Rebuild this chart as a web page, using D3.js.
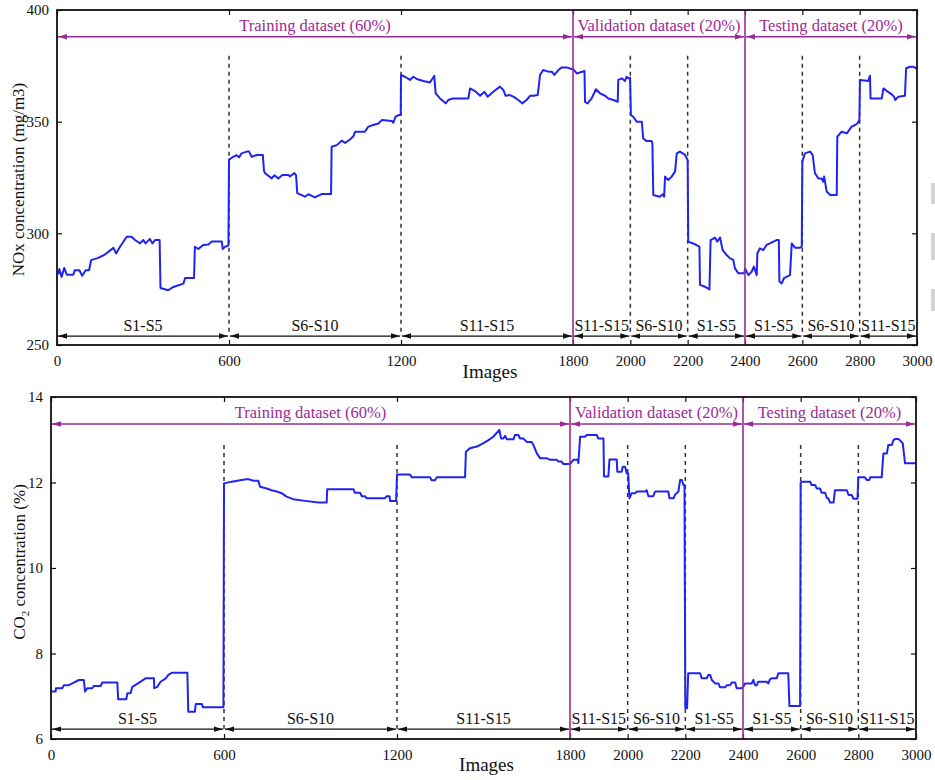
<!DOCTYPE html>
<html>
<head>
<meta charset="utf-8">
<script src="https://cdn.jsdelivr.net/npm/d3@7"></script>
<style>
  body { margin: 0; background: #fff; }
  svg { display: block; }
  text { font-family: "Liberation Serif", "Times New Roman", serif; }
</style>
</head>
<body>
<svg id="chart" width="935" height="780"></svg>
<script>
// ---- data -------------------------------------------------------------
const imageTicks = [0, 600, 1200, 1800, 2000, 2200, 2400, 2600, 2800, 3000];
const noxTicks = [250, 300, 350, 400];
const co2Ticks = [6, 8, 10, 12, 14];

const splitBounds = [0, 1800, 2400, 3000];
const splitLabels = ["Training dataset (60%)", "Validation dataset (20%)", "Testing dataset (20%)"];

const stageBounds = [0, 600, 1200, 1800, 2000, 2200, 2400, 2600, 2800, 3000];
const stageLabels = ["S1-S5", "S6-S10", "S11-S15", "S11-S15", "S6-S10", "S1-S5", "S1-S5", "S6-S10", "S11-S15"];
const stageDividers = [600, 1200, 2000, 2200, 2600, 2800];

// NOx concentration (mg/m3) per image index
const noxSeries = [
  [0,282],[5,282],[8,284],[16,280.5],[25,284.5],[34,281.5],[57,281.5],[62,283.5],[78,283.5],[88,281],
  [100,283.5],[112,283.5],[119,288],[144,289],[167,290.5],[197,293.5],[206,291],[220,294],[243,298.5],
  [260,298.5],[272,297],[290,295.5],[301,297],[309,295.5],[324,297.5],[333,295.5],[342,297],[358,297],
  [361,275.5],[388,274.5],[406,276],[441,277.5],[447,280],[478,280],[481,294],[493,293],[510,294.8],
  [528,295],[540,296.3],[575,296.3],[578,293],[586,294],[598,294.5],
  [600,333],[615,334.3],[627,335],[635,334],[644,335.8],[662,336.6],[670,336.6],[679,334.3],[697,335.1],
  [718,335.1],[722,328],[726,326.9],[749,324.6],[758,326],[772,324.6],[786,326.1],[807,326.1],[813,325.5],
  [828,327],[834,326],[838,318],[865,316.4],[877,317.5],[900,316.1],[923,317.6],[956,317.6],[958,338.8],
  [976,339.5],[993,341.5],[1005,340.5],[1022,342],[1034,343.5],[1040,345.5],[1074,345.5],[1086,347.8],
  [1103,348.5],[1121,349.2],[1133,350.7],[1168,350.3],[1173,349.5],[1181,352.2],[1193,353],[1199,353],
  [1200,370.9],[1214,370.1],[1231,368.7],[1243,370.1],[1255,369.1],[1278,368.2],[1301,367.5],[1314,370.1],
  [1316,370.5],[1321,362.7],[1336,360.4],[1356,358.2],[1365,359.7],[1380,360.4],[1435,360.4],[1441,364.9],
  [1458,363.7],[1476,361.6],[1491,363.4],[1502,361.2],[1522,363.4],[1545,365.7],[1557,364.2],[1565,361.6],
  [1580,361.9],[1592,361.2],[1609,359.7],[1623,358.2],[1638,359.7],[1650,361.6],[1662,361.6],[1677,361.9],
  [1685,370.9],[1696,373.1],[1714,372.4],[1726,372.4],[1735,370.9],[1749,373.1],[1761,374.3],[1778,374.3],
  [1795,373.6],[1800,373.6],
  [1813,371.6],[1840,372.7],[1842,358.9],[1851,358.2],[1865,360.4],[1880,364.5],[1894,362.7],[1912,361.6],
  [1923,360.4],[1941,359.7],[1956,358.9],[1958,368.7],[1970,369.4],[1981,368.2],[1987,370.1],[1993,369.4],
  [1999,369.7],
  [2002,353],[2010,352.2],[2022,350],[2040,350],[2045,342.5],[2057,341.3],[2074,341.3],[2077,340.3],
  [2080,317.2],[2103,316.4],[2113,317.5],[2118,316.4],[2121,325.4],[2132,323.9],[2144,325.4],[2156,327.6],
  [2162,335.8],[2173,336.6],[2191,335.1],[2200,332.8],
  [2202,296.3],[2226,295.1],[2241,294],[2243,276.9],[2260,276.1],[2276,274.9],[2280,297],[2295,298.1],
  [2303,296.3],[2313,298.1],[2322,292.5],[2336,290.3],[2348,288.8],[2359,288.1],[2365,284.3],[2377,282.1],
  [2398,282.1],
  [2400,284.3],[2412,281.3],[2423,282.8],[2431,285.1],[2441,281.3],[2443,291],[2452,293.3],[2464,292.5],
  [2475,294.8],[2487,295.5],[2510,297],[2518,297],[2520,278.4],[2528,277.6],[2536,279.9],[2557,281.3],
  [2563,295.5],[2574,293.6],[2592,293.6],[2598,294],
  [2600,332.1],[2609,335.8],[2627,336.6],[2636,335.1],[2644,326.9],[2656,324.6],[2667,324.6],[2673,323.1],
  [2676,325.4],[2685,318.7],[2697,317.2],[2720,317.2],[2722,343.3],[2737,345.5],[2755,344.8],[2764,346.3],
  [2772,347.8],[2784,348.5],[2792,349.2],[2799,350.7],
  [2801,368.7],[2830,368.2],[2836,370.6],[2838,360.4],[2877,360.4],[2883,364.9],[2895,363.7],[2912,362.2],
  [2920,361.2],[2924,359.7],[2935,361.2],[2958,361.6],[2962,373.9],[2976,374.6],[2987,374.6],[3000,373.6]
];

// CO2 concentration (%) per image index
const co2Series = [
  [0,7.11],[16,7.11],[17,7.19],[39,7.19],[45,7.26],[62,7.26],[74,7.3],[97,7.38],[114,7.38],[118,7.11],
  [126,7.19],[143,7.19],[149,7.24],[172,7.24],[178,7.32],[230,7.32],[233,6.93],[261,6.93],[265,7.07],
  [276,7.07],[282,7.22],[299,7.29],[328,7.42],[357,7.42],[358,7.19],[369,7.22],[380,7.34],[398,7.42],
  [407,7.5],[419,7.55],[473,7.55],[476,6.64],[499,6.64],[502,6.82],[523,6.82],[527,6.74],[598,6.74],
  [600,11.98],[627,12.02],[661,12.06],[684,12.08],[702,12.04],[719,12.04],[725,11.9],[748,11.86],
  [765,11.82],[783,11.79],[800,11.75],[817,11.67],[840,11.61],[881,11.57],[927,11.53],[956,11.53],
  [958,11.84],[1049,11.84],[1054,11.76],[1072,11.76],[1078,11.68],[1089,11.68],[1095,11.63],[1158,11.63],
  [1164,11.68],[1174,11.68],[1176,11.57],[1197,11.57],
  [1200,12.19],[1245,12.19],[1251,12.12],[1315,12.12],[1320,12.05],[1332,12.05],[1338,12.12],[1436,12.12],
  [1439,12.72],[1453,12.8],[1477,12.84],[1500,12.92],[1517,12.99],[1534,13.07],[1555,13.23],[1561,13.03],
  [1569,13.03],[1575,13.09],[1581,13.01],[1604,13.01],[1609,13.11],[1621,13.11],[1627,13.03],[1638,13.03],
  [1650,12.95],[1667,12.95],[1673,12.88],[1685,12.68],[1696,12.57],[1719,12.57],[1731,12.53],[1754,12.53],
  [1760,12.49],[1771,12.49],[1777,12.43],[1800,12.43],
  [1812,12.53],[1826,12.53],[1829,12.45],[1835,13.07],[1852,13.07],[1858,13.11],[1893,13.11],[1898,13.03],
  [1916,13.03],[1918,12.14],[1933,12.14],[1937,12.54],[1962,12.54],[1964,12.25],[1979,12.25],[1983,12.37],
  [1991,12.37],[1997,12.21],[2002,12.21],
  [2006,11.63],[2014,11.75],[2026,11.75],[2032,11.79],[2060,11.79],[2066,11.82],[2072,11.68],[2089,11.68],
  [2095,11.79],[2141,11.79],[2145,11.63],[2159,11.63],[2164,11.71],[2176,11.79],[2182,12.06],[2188,12.06],
  [2193,11.94],[2197,11.94],
  [2200,6.72],[2206,6.72],[2210,7.54],[2251,7.54],[2257,7.42],[2274,7.42],[2280,7.5],[2286,7.5],
  [2292,7.38],[2303,7.3],[2315,7.3],[2320,7.21],[2338,7.21],[2344,7.26],[2355,7.26],[2361,7.32],
  [2373,7.32],[2378,7.19],[2396,7.19],
  [2401,7.22],[2407,7.3],[2430,7.3],[2436,7.38],[2442,7.26],[2448,7.26],[2453,7.34],[2482,7.34],
  [2488,7.3],[2494,7.4],[2500,7.42],[2517,7.42],[2523,7.54],[2557,7.54],[2561,6.77],[2598,6.77],
  [2600,12],[2604,12.02],[2633,12.02],[2638,11.94],[2650,11.94],[2656,11.86],[2667,11.86],[2673,11.76],
  [2685,11.76],[2691,11.63],[2696,11.63],[2702,11.53],[2714,11.53],[2719,11.82],[2760,11.82],[2766,11.71],
  [2777,11.71],[2783,11.62],[2797,11.62],
  [2800,12.12],[2823,12.12],[2829,12.06],[2838,12.06],[2841,12.12],[2881,12.12],[2887,12.68],[2899,12.68],
  [2904,12.88],[2916,12.88],[2922,12.99],[2928,13.02],[2939,13.02],[2954,12.92],[2962,12.45],[3000,12.45]
];

// ---- drawing ----------------------------------------------------------
const svg = d3.select("#chart");
const LINE_BLUE = "#1f24f0";
const PURPLE = "#9b2a96";
const TICK_FONT = 15;
const STAGE_FONT = 16;
const SPLIT_FONT = 16.5;

const defs = svg.append("defs");
function arrowMarker(id, color) {
  defs.append("marker")
    .attr("id", id)
    .attr("viewBox", "0 0 10 6")
    .attr("refX", 10).attr("refY", 3)
    .attr("markerWidth", 9).attr("markerHeight", 5.4)
    .attr("markerUnits", "userSpaceOnUse")
    .attr("orient", "auto-start-reverse")
    .append("path")
    .attr("d", "M0,0 L10,3 L0,6 Z")
    .attr("fill", color);
}
arrowMarker("arrow-black", "#111");
arrowMarker("arrow-purple", PURPLE);

function drawPanel(cfg) {
  const g = svg.append("g");
  const x = d3.scaleLinear().domain([0, 3000]).range([cfg.left, cfg.right]);
  const y = d3.scaleLinear().domain(cfg.yDomain).range([cfg.bottom, cfg.top]);

  // inward ticks on all four sides
  const bottomAxis = g.append("g").attr("transform", `translate(0,${cfg.bottom})`)
    .call(d3.axisBottom(x).tickValues(imageTicks).tickSize(-5).tickPadding(10).tickFormat(d3.format("d")));
  g.append("g").attr("transform", `translate(0,${cfg.top})`)
    .call(d3.axisTop(x).tickValues(imageTicks).tickSize(-5).tickFormat(""));
  g.append("g").attr("transform", `translate(${cfg.left},0)`)
    .call(d3.axisLeft(y).tickValues(cfg.ticks).tickSize(-5).tickPadding(8).tickFormat(d3.format("d")));
  g.append("g").attr("transform", `translate(${cfg.right},0)`)
    .call(d3.axisRight(y).tickValues(cfg.ticks).tickSize(-5).tickFormat(""));
  g.selectAll(".domain").remove();
  g.selectAll(".tick line").attr("stroke", "#111").attr("stroke-width", 1.2);
  g.selectAll(".tick text")
    .attr("font-family", '"Liberation Serif", serif')
    .attr("font-size", TICK_FONT).attr("fill", "#111");
  bottomAxis.selectAll(".tick text").attr("dy", "0.71em");

  // dashed stage dividers
  g.selectAll(".divider").data(stageDividers).join("line")
    .attr("x1", d => x(d)).attr("x2", d => x(d))
    .attr("y1", y(cfg.dashTop)).attr("y2", y(cfg.stageLevel))
    .attr("stroke", "#333").attr("stroke-width", 1.5)
    .attr("stroke-dasharray", "4,4");

  // stage arrows and labels along the bottom
  const stages = stageLabels.map((label, i) => ({ label, a: stageBounds[i], b: stageBounds[i + 1] }));
  g.selectAll(".stage").data(stages).join("line")
    .attr("x1", d => x(d.a) + 1).attr("x2", d => x(d.b) - 1)
    .attr("y1", y(cfg.stageLevel)).attr("y2", y(cfg.stageLevel))
    .attr("stroke", "#111").attr("stroke-width", 1.3)
    .attr("marker-start", "url(#arrow-black)")
    .attr("marker-end", "url(#arrow-black)");
  g.selectAll(".stageLabel").data(stages).join("text")
    .attr("x", d => x((d.a + d.b) / 2))
    .attr("y", y(cfg.stageLevel) - 5)
    .attr("text-anchor", "middle")
    .attr("font-size", STAGE_FONT).attr("fill", "#111")
    .text(d => d.label);

  // measured series
  const line = d3.line().x(d => x(d[0])).y(d => y(d[1]));
  g.append("path").datum(cfg.series)
    .attr("d", line)
    .attr("fill", "none").attr("stroke", LINE_BLUE)
    .attr("stroke-width", 2).attr("stroke-linejoin", "round");

  // dataset split lines
  g.selectAll(".split").data([1800, 2400]).join("line")
    .attr("x1", d => x(d)).attr("x2", d => x(d))
    .attr("y1", cfg.top).attr("y2", cfg.bottom)
    .attr("stroke", PURPLE).attr("stroke-width", 1.6);

  const splits = splitLabels.map((label, i) => ({ label, a: splitBounds[i], b: splitBounds[i + 1] }));
  g.selectAll(".splitArrow").data(splits).join("line")
    .attr("x1", d => x(d.a) + 1).attr("x2", d => x(d.b) - 1)
    .attr("y1", y(cfg.splitLevel)).attr("y2", y(cfg.splitLevel))
    .attr("stroke", PURPLE).attr("stroke-width", 1.5)
    .attr("marker-start", "url(#arrow-purple)")
    .attr("marker-end", "url(#arrow-purple)");
  g.selectAll(".splitLabel").data(splits).join("text")
    .attr("x", d => x((d.a + d.b) / 2))
    .attr("y", y(cfg.splitLevel) - 6)
    .attr("text-anchor", "middle")
    .attr("font-size", SPLIT_FONT).attr("fill", PURPLE)
    .text(d => d.label);

  // frame
  g.append("rect")
    .attr("x", cfg.left).attr("y", cfg.top)
    .attr("width", cfg.right - cfg.left).attr("height", cfg.bottom - cfg.top)
    .attr("fill", "none").attr("stroke", "#111").attr("stroke-width", 1.8);

  // axis titles
  g.append("text")
    .attr("x", (cfg.left + cfg.right) / 2 + 3).attr("y", cfg.bottom + cfg.imagesDrop)
    .attr("text-anchor", "middle").attr("font-size", 19).attr("fill", "#111")
    .text("Images");

  const yTitle = g.append("text")
    .attr("transform", `translate(${cfg.titleX},${(cfg.top + cfg.bottom) / 2 + cfg.titleShift}) rotate(-90)`)
    .attr("text-anchor", "middle").attr("font-size", 17).attr("fill", "#111");
  cfg.title(yTitle);
}

drawPanel({
  series: noxSeries, yDomain: [250, 400], ticks: noxTicks,
  left: 57, right: 917, top: 10, bottom: 345,
  splitLevel: 388, dashTop: 379.5, stageLevel: 254,
  titleX: 24, titleShift: 2, imagesDrop: 33,
  title: t => t.text("NOx concentration (mg/m3)")
});

drawPanel({
  series: co2Series, yDomain: [6, 14], ticks: co2Ticks,
  left: 51, right: 916, top: 397, bottom: 739,
  splitLevel: 13.37, dashTop: 12.88, stageLevel: 6.23,
  titleX: 25, titleShift: -6, imagesDrop: 32,
  title: t => {
    t.append("tspan").text("CO");
    t.append("tspan").attr("font-size", 11).attr("dy", 4).text("2");
    t.append("tspan").attr("dy", -4).text(" concentration (%)");
  }
});

// partial marks of the neighbouring figure at the right edge
svg.selectAll(".edge").data([[183, 204], [233, 260], [289, 311]]).join("rect")
  .attr("x", 931).attr("y", d => d[0]).attr("width", 4).attr("height", d => d[1] - d[0])
  .attr("fill", "#d4d4d4");
</script>
</body>
</html>
